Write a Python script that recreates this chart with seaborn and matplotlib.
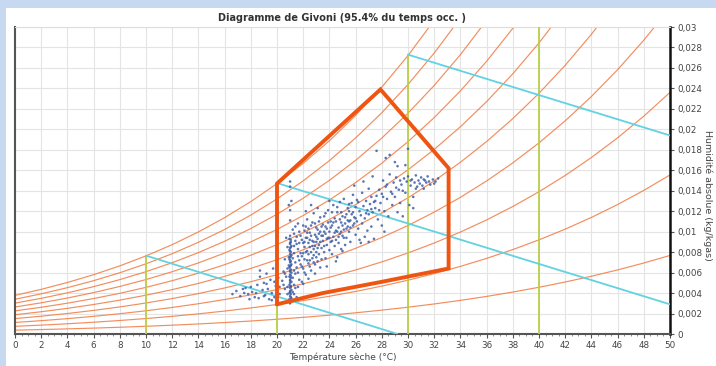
import numpy as np
import pandas as pd
import matplotlib
matplotlib.use("Agg")
import matplotlib.pyplot as plt
from matplotlib.ticker import FuncFormatter, MultipleLocator
from matplotlib.patches import Rectangle
import seaborn as sns

# saturation vapour pressure (kPa) every 2 degC, used for the RH curves
temp_grid = [0, 2, 4, 6, 8, 10, 12, 14, 16, 18, 20, 22, 24, 26, 28, 30,
             32, 34, 36, 38, 40, 42, 44, 46, 48, 50]
p_sat = [0.6112, 0.7060, 0.8135, 0.9353, 1.0729, 1.2282, 1.4028, 1.5989,
         1.8188, 2.0647, 2.3392, 2.6452, 2.9856, 3.3637, 3.7828, 4.2467,
         4.7593, 5.3247, 5.9475, 6.6324, 7.3844, 8.2090, 9.1118, 10.099,
         11.177, 12.352]
rh_levels = [0.1, 0.2, 0.3, 0.4, 0.5, 0.6, 0.7, 0.8, 0.9, 1.0]
p_atm = 101.325

# dry-bulb verticals (x) and their top (kg/kg)
vert_temp = [10, 20, 30, 40]
vert_top = [0.00766, 0.01475, 0.0273, 0.03]

# wet-bulb lines: start / end points
wb_x0 = [10, 20, 30]
wb_y0 = [0.00766, 0.01475, 0.0273]
wb_x1 = [29.2, 50, 50]
wb_y1 = [0.0, 0.0029, 0.0194]

# Givoni comfort zone outline
zone_temp = [20.0, 20.0, 27.9, 33.1, 33.1, 28.0, 23.5, 20.0]
zone_hum = [0.0029, 0.0147, 0.0239, 0.0162, 0.0064, 0.0051, 0.0040, 0.0029]

# measured hourly points (temperature degC, humidity g/kg)
pts_temp = [
    16.6, 16.9, 17.2, 17.4, 17.6, 17.8, 18.0, 18.1, 18.3, 18.5, 18.6, 18.7, 18.9, 19.0, 19.1, 19.2, 19.3, 19.4,
    19.5, 19.6, 19.7, 19.8, 19.9, 20.0, 20.1, 20.2, 18.4, 17.9, 19.2, 19.6, 18.7, 19.0, 20.2, 19.8, 17.5,
    21.0, 21.05, 20.95, 21.1, 21.0, 21.05, 20.95, 21.0, 21.1, 21.0, 21.05, 20.95, 21.0, 21.1, 21.0, 21.05,
    20.95, 21.0, 21.1, 21.0, 21.05, 20.95, 21.0, 21.1, 21.0, 21.05, 20.95, 21.0, 21.1, 21.0, 21.05, 20.95,
    21.0, 21.1, 21.0, 21.05, 20.95, 21.0,
    20.4, 20.5, 20.6, 20.6, 20.7, 20.8, 20.8, 20.9, 21.2, 21.3, 21.3, 21.4, 21.4, 21.5, 21.5, 21.6, 21.6,
    21.7, 21.7, 21.8, 21.0, 21.0, 21.1, 21.0, 21.0, 20.9, 21.2, 21.3, 21.5, 21.8, 20.7, 21.6,
    21.9, 21.9, 22.0, 22.0, 22.1, 22.1, 22.2, 22.2, 22.3, 22.3, 22.4, 22.4, 22.5, 22.5, 22.6, 22.6, 22.7,
    22.7, 22.8, 22.8, 22.9, 22.9, 23.0, 23.0, 23.1, 23.1, 23.2, 23.2, 23.3, 23.3, 23.4, 23.4, 22.0, 22.4,
    22.9, 23.1, 22.6, 22.2, 23.4, 22.8, 22.3, 23.0, 22.5, 22.1,
    23.5, 23.5, 23.6, 23.6, 23.7, 23.7, 23.8, 23.8, 23.9, 23.9, 24.0, 24.0, 24.1, 24.1, 24.2, 24.2, 24.3,
    24.3, 24.4, 24.4, 24.5, 24.5, 24.6, 24.6, 24.7, 24.7, 24.8, 24.8, 24.9, 24.9, 25.0, 25.0, 25.1, 25.1,
    25.2, 25.2, 25.3, 25.3, 25.4, 25.4, 23.8, 24.5, 25.0, 24.0, 23.6, 24.9,
    25.5, 25.5, 25.6, 25.6, 25.7, 25.8, 25.8, 25.9, 26.0, 26.0, 26.1, 26.1, 26.2, 26.3, 26.3, 26.4, 26.5,
    26.5, 26.6, 26.7, 26.7, 26.8, 26.9, 26.9, 27.0, 27.0, 27.1, 27.2, 27.2, 27.3, 27.4, 27.4, 26.4, 27.0,
    25.9, 26.6, 27.3,
    27.5, 27.6, 27.6, 27.7, 27.8, 27.9, 28.0, 28.0, 28.1, 28.2, 28.3, 28.3, 28.4, 28.5, 28.6, 28.6, 28.7,
    28.8, 28.9, 29.0, 29.0, 29.1, 29.2, 29.2, 29.3, 29.4, 28.2, 29.4,
    29.5, 29.6, 29.7, 29.8, 29.9, 30.0, 30.1, 30.2, 30.3, 30.4, 30.5, 30.6, 30.7, 30.8, 30.9, 31.0, 31.1,
    31.2, 31.4, 31.5, 31.7, 31.9, 32.1, 30.0, 29.8, 30.4, 31.2, 32.3,
]
pts_hum = [
    3.9, 4.2, 3.7, 4.4, 4.5, 3.9, 4.6, 4.1, 3.6, 4.8, 3.5, 6.2, 4.3, 5.0, 3.8, 5.9, 4.4, 3.4,
    5.3, 4.0, 6.4, 3.6, 4.7, 4.2, 5.5, 3.9, 4.0, 3.4, 4.9, 3.3, 5.6, 3.7, 4.6, 5.1, 4.0,
    3.0, 3.2, 3.4, 3.5, 3.7, 3.9, 4.0, 4.2, 4.3, 4.5, 4.7, 4.8, 5.0, 5.1, 5.3, 5.5,
    5.6, 5.8, 6.0, 6.1, 6.3, 6.5, 6.6, 6.8, 7.0, 7.1, 7.3, 7.5, 7.7, 7.8, 8.0, 8.2,
    8.4, 8.6, 8.8, 9.0, 9.3, 9.6,
    5.2, 6.1, 4.4, 7.3, 5.6, 8.5, 3.9, 6.7, 10.2, 4.8, 7.9, 5.9, 9.1, 6.5, 3.6, 8.3, 10.8,
    5.3, 7.2, 9.6, 11.1, 12.1, 13.0, 14.4, 14.9, 12.6, 4.1, 6.2, 8.8, 6.8, 9.4, 4.6,
    7.6, 5.1, 8.9, 6.4, 10.1, 7.3, 5.8, 9.4, 8.1, 11.2, 6.9, 7.8, 9.9, 8.5, 6.2, 10.6, 7.4,
    9.1, 8.3, 11.8, 6.8, 9.7, 8.0, 10.4, 7.1, 9.3, 8.7, 11.0, 6.5, 10.0, 8.4, 9.6, 4.9, 5.4,
    5.9, 12.3, 12.6, 12.0, 7.3, 7.0, 9.9, 9.0, 7.2, 8.5,
    9.1, 10.7, 8.0, 11.5, 9.8, 7.4, 10.3, 8.7, 9.4, 12.1, 8.2, 10.0, 11.0, 9.0, 7.8, 10.6, 9.5,
    12.6, 8.6, 11.3, 10.1, 9.2, 7.5, 11.9, 10.4, 8.9, 9.8, 12.9, 10.9, 8.3, 9.6, 11.5, 10.2, 13.2,
    8.7, 10.8, 11.7, 9.4, 10.5, 12.3, 6.6, 7.1, 8.1, 13.0, 10.0, 11.9,
    10.0, 12.0, 11.1, 9.0, 12.8, 10.6, 13.6, 11.4, 9.7, 12.4, 11.0, 13.1, 10.3, 12.0, 9.2, 11.6, 13.8,
    10.8, 12.5, 11.3, 9.5, 13.0, 12.1, 10.1, 11.7, 14.2, 12.7, 10.5, 13.4, 11.9, 12.9, 9.3, 8.9, 9.0,
    14.5, 14.9, 15.4,
    12.3, 13.5, 17.9, 11.2, 14.1, 12.8, 13.7, 10.6, 15.0, 12.0, 14.4, 17.2, 13.2, 11.5, 15.6, 17.5, 13.9,
    12.6, 14.8, 16.8, 13.4, 15.3, 11.9, 16.4, 14.1, 15.0, 10.0, 12.8,
    14.6, 11.5, 15.2, 13.8, 14.9, 15.4, 12.6, 14.5, 15.1, 12.3, 14.8, 15.5, 14.4, 15.0, 14.7, 15.3, 14.5,
    15.1, 14.8, 15.4, 14.6, 15.1, 14.9, 18.1, 16.5, 13.4, 14.2, 15.2,
]

# second pass over the dense core of the cloud
core_temp = [
    21.3, 21.4, 21.4, 21.5, 21.6, 21.6, 21.7, 21.7, 21.8, 21.9, 21.9, 22.0, 22.0, 22.1, 22.1, 22.2, 22.2,
    22.3, 22.3, 22.4, 22.4, 22.5, 22.5, 22.6, 22.6, 22.7, 22.7, 22.8, 22.8, 22.9, 22.9, 23.0, 23.0, 23.1,
    23.1, 23.2, 23.2, 23.3, 23.3, 23.4,
    23.5, 23.6, 23.7, 23.8, 23.9, 24.0, 24.1, 24.2, 24.3, 24.4, 24.5, 24.6, 24.7, 24.8, 24.9, 25.0, 25.1,
    25.2, 25.3, 25.4, 25.5, 25.6, 25.7, 25.8, 25.9, 26.0, 23.7, 24.2, 24.6, 25.5,
    21.0, 21.05, 21.0, 21.05, 21.0, 21.05, 21.0, 21.05, 21.0, 21.05, 21.0, 21.05, 21.0, 21.05,
    20.5, 20.6, 20.8, 20.9, 21.2, 21.3, 21.4, 21.2, 21.3, 20.8,
    27.5, 27.8, 28.1, 28.4, 28.8, 29.1, 29.6, 30.2, 30.6, 31.3, 31.6, 32.0, 26.2, 26.8, 27.2,
]
core_hum = [
    8.6, 7.0, 10.5, 9.5, 7.6, 6.0, 8.9, 10.0, 7.9, 9.2, 6.6, 7.9, 10.6, 9.0, 6.0, 8.0, 10.5,
    7.2, 9.4, 8.9, 10.3, 6.6, 9.2, 8.0, 9.6, 8.6, 10.9, 9.0, 7.7, 8.6, 10.8, 9.5, 7.5, 8.4,
    10.2, 9.8, 7.8, 9.0, 11.4, 10.5,
    9.6, 8.6, 10.5, 9.3, 10.9, 9.4, 10.4, 9.1, 10.9, 9.9, 11.0, 10.0, 9.5, 11.2, 10.0, 10.6, 9.4,
    11.4, 10.3, 11.1, 11.0, 10.4, 11.7, 11.9, 10.8, 11.3, 11.8, 11.9, 12.4, 12.7,
    3.1, 3.6, 4.1, 4.6, 5.2, 5.7, 6.2, 6.7, 7.2, 7.6, 8.1, 8.5, 8.9, 9.2,
    4.8, 5.9, 4.6, 7.5, 5.5, 3.9, 4.5, 7.4, 9.8, 6.4,
    13.0, 12.1, 13.4, 14.6, 13.7, 14.3, 14.0, 15.0, 14.2, 15.0, 14.9, 14.7, 12.9, 11.8, 12.2,
]

sns.set_theme(style="white")
plt.rcParams['font.family'] = ['DejaVu Sans']

fig = plt.figure(figsize=(7.16, 3.66), dpi=100, facecolor='#c6d9f0')
panel = Rectangle((6 / 716, 0), 1, 358 / 366, transform=fig.transFigure,
                  facecolor='white', edgecolor='none', zorder=-10)
fig.add_artist(panel)
ax = fig.add_axes([15 / 716, 32 / 366, 655 / 716, 307 / 366])
ax.set_zorder(1)
ax.set_facecolor('white')

# grid
ax.set_xlim(0, 50)
ax.set_ylim(0, 0.03)
ax.xaxis.set_major_locator(MultipleLocator(2))
ax.xaxis.set_minor_locator(MultipleLocator(0.5))
ax.yaxis.set_major_locator(MultipleLocator(0.002))
ax.grid(True, which='major', color='#e4e4e4', linewidth=0.8)
ax.set_axisbelow(True)

# relative humidity curves
t_arr = np.array(temp_grid)
ps_arr = np.array(p_sat)
for rh in rh_levels:
    w = 0.622 * rh * ps_arr / (p_atm - rh * ps_arr)
    sns.lineplot(x=t_arr, y=w, ax=ax, color='#f07a42', linewidth=0.85, alpha=0.85,
                 estimator=None, sort=False, zorder=2)

# dry-bulb verticals
for xv, top in zip(vert_temp, vert_top):
    ax.plot([xv, xv], [0, top], color='#b9cf45', linewidth=1.3, zorder=3)

# wet-bulb lines
for x0, y0, x1, y1 in zip(wb_x0, wb_y0, wb_x1, wb_y1):
    ax.plot([x0, x1], [y0, y1], color='#62d2e2', linewidth=1.3, zorder=3)

# points
df = pd.DataFrame({'T': pts_temp + core_temp,
                   'W': np.array(pts_hum + core_hum) / 1000})
sns.scatterplot(data=df, x='T', y='W', ax=ax, s=3.5, color='#3f5ea6', edgecolor='none',
                alpha=0.85, zorder=4)

# comfort zone
ax.plot(zone_temp, zone_hum, color='#ee5512', linewidth=2.8, solid_joinstyle='miter', zorder=5)

# axes styling
ax.yaxis.tick_right()
ax.yaxis.set_label_position('right')
fmt = FuncFormatter(lambda v, pos: f'{v:g}'.replace('.', ','))
ax.yaxis.set_major_formatter(fmt)
ax.tick_params(axis='both', which='major', labelsize=6.3, colors='#555555', length=3, width=0.8,
               direction='out', pad=2)
ax.tick_params(axis='x', which='minor', length=1.5, width=0.6, color='#777777', direction='out')
ax.tick_params(axis='y', which='both', right=True, left=False)
ax.tick_params(axis='x', which='both', bottom=True)
for lab in ax.get_xticklabels() + ax.get_yticklabels():
    lab.set_color('#444444')

for side in ['left', 'bottom']:
    ax.spines[side].set_color('#555555')
    ax.spines[side].set_linewidth(1.5)
ax.spines['right'].set_color('#111111')
ax.spines['right'].set_linewidth(1.8)
ax.spines['top'].set_color('#dddddd')
ax.spines['top'].set_linewidth(0.8)

ax.set_xlabel('Température sèche (°C)', fontsize=6.5, color='#444444', labelpad=2)
ax.set_ylabel('Humidité absolue (kg/kgas)', fontsize=6.8, color='#444444', rotation=-90,
              va='center', ha='center')
ax.yaxis.set_label_coords(1.057, 0.45)
ax.set_title('Diagramme de Givoni (95.4% du temps occ. )', fontsize=7, fontweight='bold',
             color='#333333', pad=4)

fig.savefig('out.png', dpi=100, facecolor=fig.get_facecolor())
